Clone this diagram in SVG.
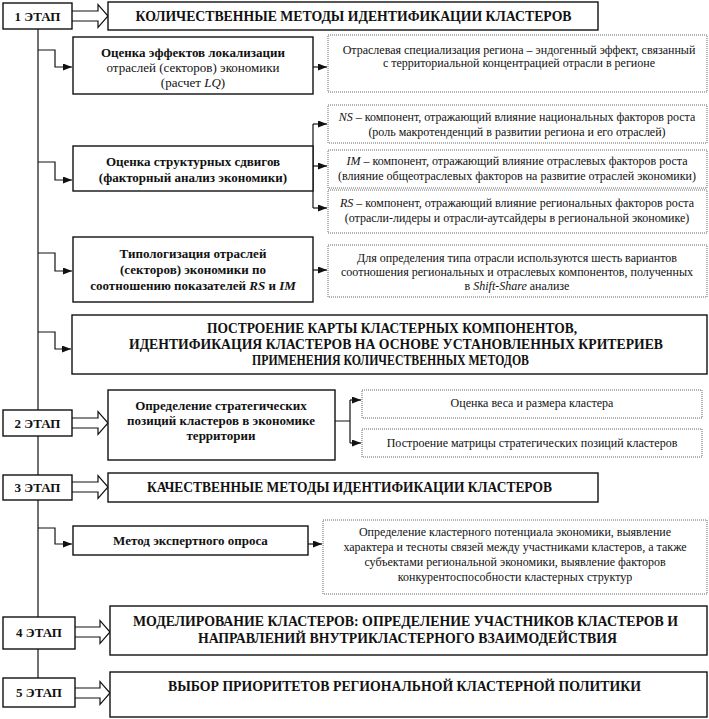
<svg xmlns="http://www.w3.org/2000/svg" width="709" height="719" viewBox="0 0 709 719">
<defs>
<marker id="ah" viewBox="0 0 9 7" refX="9" refY="3.5" markerWidth="9" markerHeight="7" markerUnits="userSpaceOnUse" orient="auto"><path d="M0,0 L9,3.5 L0,7 z" fill="#111"/></marker>
<style>
text{font-family:"Liberation Serif","Times New Roman",serif;fill:#111;text-anchor:middle}
.box{fill:#fff;stroke:#111;stroke-width:1.4}
.dot{fill:#fff;stroke:#666;stroke-width:1;stroke-dasharray:1 1}
.st{font-size:13px;font-weight:bold}
.hd{font-size:14px;font-weight:bold}
.b13{font-size:13px;font-weight:bold}
.r13{font-size:13px}
.sm{font-size:12px}
.ln{fill:none;stroke:#111;stroke-width:1.2}
.arr{fill:none;stroke:#111;stroke-width:1.2;marker-end:url(#ah)}
.hol{fill:#fff;stroke:#111;stroke-width:1.2}
</style>
</defs>
<rect width="709" height="719" fill="#fff"/>

<g id="connectors">
<path class="ln" d="M38,29 V678"/>
<path class="arr" d="M38,50 H55 V67 H72"/>
<path class="arr" d="M313,67 H327"/>
<path class="arr" d="M38,162 H55 V180 H72"/>
<path class="ln" d="M313,124 V208"/>
<path class="arr" d="M313,124 H327"/>
<path class="arr" d="M313,166 H327"/>
<path class="arr" d="M313,208 H327"/>
<path class="arr" d="M38,253 H55 V271 H72"/>
<path class="arr" d="M313,270 H327"/>
<path class="arr" d="M38,332 H55 V349 H71"/>
<path class="ln" d="M335,421 H350 M350,400 V443"/>
<path class="arr" d="M350,400 H361"/>
<path class="arr" d="M350,443 H361"/>
<path class="arr" d="M38,528 H55 V544 H72"/>
<path class="arr" d="M308,544 H322"/>
<path class="hol" d="M72,11 H98 V4.5 L108,16 L98,27.5 V21 H72"/>
<path class="hol" d="M72,418 H98 V411.5 L108,423 L98,434.5 V428 H72"/>
<path class="hol" d="M72,482 H98 V475.5 L108,487 L98,498.5 V492 H72"/>
<path class="hol" d="M75,627 H100 V620.5 L110,632 L100,643.5 V637 H75"/>
<path class="hol" d="M75,688 H100 V681.5 L110,693 L100,704.5 V698 H75"/>
</g>

<g id="stage1">
<rect class="box" x="3" y="3" width="69" height="26"/>
<text class="st" x="37.5" y="20.5">1 ЭТАП</text>
</g>
<g id="title1">
<rect class="box" x="108" y="2" width="490" height="28"/>
<text class="hd" x="353.5" y="21" textLength="436" lengthAdjust="spacingAndGlyphs">КОЛИЧЕСТВЕННЫЕ МЕТОДЫ ИДЕНТИФИКАЦИИ КЛАСТЕРОВ</text>
</g>

<g id="lq">
<rect class="box" x="73" y="37" width="240" height="57"/>
<text class="b13" x="193" y="57">Оценка эффектов локализации</text>
<text class="r13" x="193" y="72">отраслей (секторов) экономики</text>
<text class="r13" x="193" y="87">(расчет <tspan font-style="italic">LQ</tspan>)</text>
</g>
<g id="lq-note">
<rect class="dot" x="328" y="35" width="379" height="57"/>
<text class="sm" x="519" y="54">Отраслевая специализация региона – эндогенный эффект, связанный</text>
<text class="sm" x="519" y="67">с территориальной концентрацией отрасли в регионе</text>
</g>

<g id="ns">
<rect class="dot" x="328" y="105" width="379" height="38"/>
<text class="sm" x="517" y="121"><tspan font-style="italic">NS</tspan> – компонент, отражающий влияние национальных факторов роста</text>
<text class="sm" x="517" y="136">(роль макротенденций в развитии региона и его отраслей)</text>
</g>
<g id="im">
<rect class="dot" x="328" y="150" width="379" height="38"/>
<text class="sm" x="517" y="165"><tspan font-style="italic">IM</tspan> – компонент, отражающий влияние отраслевых факторов роста</text>
<text class="sm" x="517" y="180">(влияние общеотраслевых факторов на развитие отраслей экономики)</text>
</g>
<g id="rs">
<rect class="dot" x="328" y="190" width="379" height="43"/>
<text class="sm" x="517" y="207"><tspan font-style="italic">RS</tspan> – компонент, отражающий влияние региональных факторов роста</text>
<text class="sm" x="517" y="222">(отрасли-лидеры и отрасли-аутсайдеры в региональной экономике)</text>
</g>

<g id="shift">
<rect class="box" x="73" y="146" width="240" height="45"/>
<text class="b13" x="193" y="166">Оценка структурных сдвигов</text>
<text class="b13" x="193" y="182">(факторный анализ экономики)</text>
</g>

<g id="typology">
<rect class="box" x="73" y="237" width="240" height="65"/>
<text class="b13" x="193" y="258">Типологизация отраслей</text>
<text class="b13" x="193" y="274">(секторов) экономики по</text>
<text class="b13" x="193" y="290">соотношению показателей <tspan font-style="italic">RS</tspan> и <tspan font-style="italic">IM</tspan></text>
</g>
<g id="typology-note">
<rect class="dot" x="328" y="245" width="379" height="52"/>
<text class="sm" x="517" y="262">Для определения типа отрасли используются шесть вариантов</text>
<text class="sm" x="517" y="276">соотношения региональных и отраслевых компонентов, полученных</text>
<text class="sm" x="517" y="290">в <tspan font-style="italic">Shift-Share</tspan> анализе</text>
</g>

<g id="map">
<rect class="box" x="72" y="315" width="635" height="59"/>
<text class="hd" x="392" y="333" textLength="370" lengthAdjust="spacingAndGlyphs">ПОСТРОЕНИЕ КАРТЫ КЛАСТЕРНЫХ КОМПОНЕНТОВ,</text>
<text class="hd" x="396" y="349" textLength="534" lengthAdjust="spacingAndGlyphs">ИДЕНТИФИКАЦИЯ КЛАСТЕРОВ НА ОСНОВЕ УСТАНОВЛЕННЫХ КРИТЕРИЕВ</text>
<text class="hd" x="390.5" y="365" textLength="277" lengthAdjust="spacingAndGlyphs">ПРИМЕНЕНИЯ КОЛИЧЕСТВЕННЫХ МЕТОДОВ</text>
</g>

<g id="stage2">
<rect class="box" x="3" y="410" width="69" height="26"/>
<text class="st" x="37.5" y="427.5">2 ЭТАП</text>
</g>
<g id="strategic">
<rect class="box" x="108" y="390" width="227" height="70"/>
<text class="b13" x="221" y="410">Определение стратегических</text>
<text class="b13" x="221" y="425">позиций кластеров в экономике</text>
<text class="b13" x="221" y="440">территории</text>
</g>
<g id="weight">
<rect class="dot" x="362" y="390" width="340" height="28"/>
<text class="sm" x="532" y="407">Оценка веса и размера кластера</text>
</g>
<g id="matrix">
<rect class="dot" x="362" y="429" width="340" height="28"/>
<text class="sm" x="532" y="447">Построение матрицы стратегических позиций кластеров</text>
</g>

<g id="stage3">
<rect class="box" x="3" y="475" width="69" height="25"/>
<text class="st" x="37.5" y="492">3 ЭТАП</text>
</g>
<g id="title3">
<rect class="box" x="108" y="473" width="490" height="29"/>
<text class="hd" x="349.5" y="492" textLength="405" lengthAdjust="spacingAndGlyphs">КАЧЕСТВЕННЫЕ МЕТОДЫ ИДЕНТИФИКАЦИИ КЛАСТЕРОВ</text>
</g>
<g id="expert">
<rect class="box" x="73" y="526" width="235" height="29"/>
<text class="b13" x="190.5" y="545">Метод экспертного опроса</text>
</g>
<g id="expert-note">
<rect class="dot" x="323" y="520" width="384" height="74"/>
<text class="sm" x="515" y="536">Определение кластерного потенциала экономики, выявление</text>
<text class="sm" x="515" y="551">характера и тесноты связей между участниками кластеров, а также</text>
<text class="sm" x="515" y="566">субъектами региональной экономики, выявление факторов</text>
<text class="sm" x="515" y="581">конкурентоспособности кластерных структур</text>
</g>

<g id="stage4">
<rect class="box" x="3" y="617" width="72" height="32"/>
<text class="st" x="39" y="637">4 ЭТАП</text>
</g>
<g id="title4">
<rect class="box" x="110" y="606" width="597" height="49"/>
<text class="hd" x="405.5" y="626" textLength="545" lengthAdjust="spacingAndGlyphs">МОДЕЛИРОВАНИЕ КЛАСТЕРОВ: ОПРЕДЕЛЕНИЕ УЧАСТНИКОВ КЛАСТЕРОВ И</text>
<text class="hd" x="407.5" y="643" textLength="419" lengthAdjust="spacingAndGlyphs">НАПРАВЛЕНИЙ ВНУТРИКЛАСТЕРНОГО ВЗАИМОДЕЙСТВИЯ</text>
</g>

<g id="stage5">
<rect class="box" x="3" y="678" width="72" height="29"/>
<text class="st" x="39" y="697">5 ЭТАП</text>
</g>
<g id="title5">
<rect class="box" x="110" y="672" width="597" height="45"/>
<text class="hd" x="404.5" y="691" textLength="473" lengthAdjust="spacingAndGlyphs">ВЫБОР ПРИОРИТЕТОВ РЕГИОНАЛЬНОЙ КЛАСТЕРНОЙ ПОЛИТИКИ</text>
</g>
</svg>
